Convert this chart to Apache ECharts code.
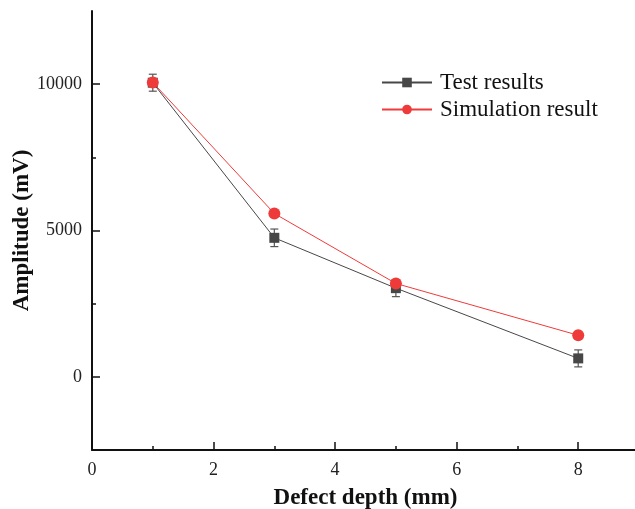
<!DOCTYPE html>
<html>
<head>
<meta charset="utf-8">
<script src="https://cdn.jsdelivr.net/npm/echarts@6/dist/echarts.min.js"></script>
<style>
  html, body { margin: 0; padding: 0; background: #fff; }
  #chart { width: 635px; height: 509px; }
</style>
</head>
<body>
<div id="chart"></div>
<script>
// defect depth in mm
const depth = [1, 3, 5, 8]
const testAmp = [10050, 4750, 3030, 630]
const testErr = [290, 300, 290, 290]
const simAmp = [10060, 5580, 3190, 1420]

const xMajor = [0, 2, 4, 6, 8]
const xMinor = [1, 3, 5, 7]
const yMajor = [0, 5000, 10000]
const yMinor = [2500, 7500]

const serif = 'Liberation Serif'

const chart = echarts.init(document.getElementById('chart'))

const testData = depth.map((d, i) => [d, testAmp[i]])
const simData = depth.map((d, i) => [d, simAmp[i]])
const errData = depth.map((d, i) => [d, testAmp[i] - testErr[i], testAmp[i] + testErr[i]])

const option = {
  animation: false,
  grid: { left: 92, top: 11, right: -4, bottom: 59, containLabel: false, outerBoundsMode: 'none' },
  legend: {
    orient: 'vertical',
    left: 376,
    top: 66,
    itemWidth: 50,
    itemHeight: 12,
    itemGap: 4,
    textStyle: { fontFamily: serif, fontSize: 23, color: '#111', padding: [0, 0, 0, 3] },
    data: ['Test results', 'Simulation result']
  },
  xAxis: [{
    type: 'value',
    min: 0,
    max: 9,
    name: 'Defect depth (mm)',
    nameLocation: 'middle',
    nameGap: 37,
    nameMoveOverlap: false,
    nameTextStyle: { fontFamily: serif, fontSize: 23, fontWeight: 'bold', color: '#111' },
    axisLine: { onZero: false, lineStyle: { color: '#111', width: 2 } },
    axisTick: { inside: true, length: 8, customValues: xMajor, lineStyle: { color: '#111', width: 1.5 } },
    axisLabel: { customValues: xMajor, margin: 11, fontFamily: serif, fontSize: 18, color: '#222', formatter: v => String(v) },
    splitLine: { show: false }
  }, {
    type: 'value',
    min: 0,
    max: 9,
    position: 'bottom',
    axisLine: { show: false, onZero: false },
    axisTick: { inside: true, length: 4, customValues: xMinor, lineStyle: { color: '#111', width: 1.5 } },
    axisLabel: { show: false },
    splitLine: { show: false }
  }],
  yAxis: [{
    type: 'value',
    min: -2500,
    max: 12500,
    interval: 2500,
    name: 'Amplitude (mV)',
    nameLocation: 'middle',
    nameGap: 58,
    nameMoveOverlap: false,
    nameTextStyle: { fontFamily: serif, fontSize: 23, fontWeight: 'bold', color: '#111' },
    axisLine: { onZero: false, lineStyle: { color: '#111', width: 2 } },
    axisTick: { inside: true, length: 8, customValues: yMajor, lineStyle: { color: '#111', width: 1.5 } },
    axisLabel: { customValues: yMajor, margin: 10, fontFamily: serif, fontSize: 18, color: '#222', formatter: v => String(v) },
    splitLine: { show: false }
  }, {
    type: 'value',
    min: -2500,
    max: 12500,
    interval: 2500,
    position: 'left',
    offset: 0,
    axisLine: { show: false, onZero: false },
    axisTick: { inside: true, length: 4, customValues: yMinor, lineStyle: { color: '#111', width: 1.5 } },
    axisLabel: { show: false },
    splitLine: { show: false }
  }],
  series: [{
    name: 'errors',
    type: 'custom',
    z: 1,
    renderItem: function (params, api) {
      const x = api.value(0)
      const lo = api.coord([x, api.value(1)])
      const hi = api.coord([x, api.value(2)])
      const w = 4
      const style = { stroke: '#555', lineWidth: 1.2 }
      return {
        type: 'group',
        children: [
          { type: 'line', shape: { x1: lo[0], y1: lo[1], x2: hi[0], y2: hi[1] }, style: style },
          { type: 'line', shape: { x1: lo[0] - w, y1: lo[1], x2: lo[0] + w, y2: lo[1] }, style: style },
          { type: 'line', shape: { x1: hi[0] - w, y1: hi[1], x2: hi[0] + w, y2: hi[1] }, style: style }
        ]
      }
    },
    data: errData
  }, {
    name: 'Test results',
    type: 'line',
    z: 2,
    color: '#474747',
    symbol: 'rect',
    symbolSize: 10,
    lineStyle: { color: '#474747', width: 1 },
    itemStyle: { color: '#474747' },
    data: testData
  }, {
    name: 'Simulation result',
    type: 'line',
    z: 3,
    color: '#ef3a3a',
    symbol: 'circle',
    symbolSize: 12,
    lineStyle: { color: '#ef3a3a', width: 1 },
    itemStyle: { color: '#ef3a3a' },
    data: simData
  }]
}

chart.setOption(option)
window.addEventListener('resize', function () {
  chart.resize()
})
</script>
</body>
</html>
